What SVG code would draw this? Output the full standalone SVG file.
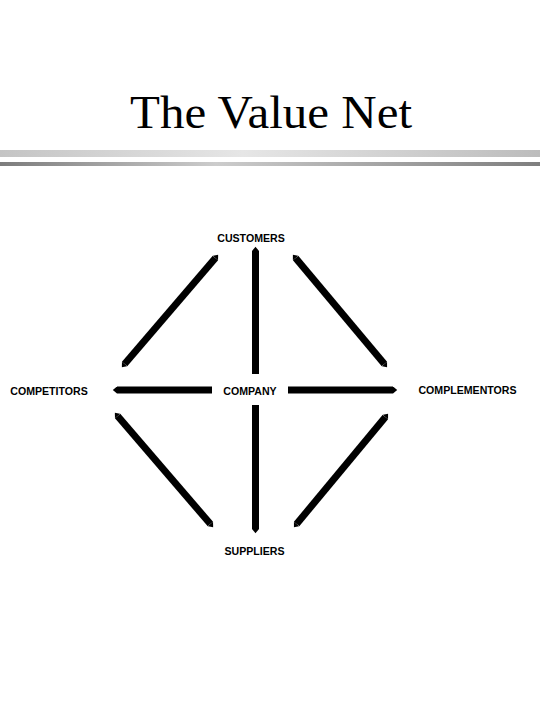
<svg xmlns="http://www.w3.org/2000/svg" width="540" height="720" viewBox="0 0 540 720">
<defs>
<style>
.lbl{font-family:"Liberation Sans",Arial,sans-serif;font-weight:bold;font-size:10.6px;fill:#000}
.title{font-family:"Liberation Serif","Times New Roman",serif;font-size:46px;fill:#000}
.conn{stroke:#000;stroke-width:7;stroke-linecap:butt;fill:none}
.tip-s{marker-start:url(#tip)}
.tip-e{marker-end:url(#tip)}
</style>
<marker id="tip" viewBox="0 0 10 10" refX="0" refY="5" markerWidth="1" markerHeight="1" orient="auto-start-reverse" markerUnits="strokeWidth">
<path d="M0,0 L6,5 L0,10 Z" fill="#000"/>
</marker>
<linearGradient id="bar1" x1="0" y1="0" x2="1" y2="0">
<stop offset="0" stop-color="#c4c4c4"/>
<stop offset="0.45" stop-color="#e6e6e6"/>
<stop offset="1" stop-color="#bcbcbc"/>
</linearGradient>
<linearGradient id="bar2" x1="0" y1="0" x2="1" y2="0">
<stop offset="0" stop-color="#7c7c7c"/>
<stop offset="0.4" stop-color="#cccccc"/>
<stop offset="1" stop-color="#7e7e7e"/>
</linearGradient>
</defs>
<rect width="540" height="720" fill="#fff"/>
<g id="title">
<text class="title" x="130" y="128" textLength="282" lengthAdjust="spacingAndGlyphs">The Value Net</text>
<rect x="0" y="150" width="540" height="7" fill="url(#bar1)"/>
<rect x="0" y="162" width="540" height="4" fill="url(#bar2)"/>
</g>
<g id="connectors">
<line class="conn tip-s tip-e" x1="215.4" y1="258" x2="124.6" y2="364"/>
<line class="conn tip-s tip-e" x1="295.6" y1="258" x2="384.4" y2="364"/>
<line class="conn tip-s tip-e" x1="117.6" y1="416" x2="210.4" y2="524"/>
<line class="conn tip-s tip-e" x1="385.4" y1="417" x2="296.6" y2="524"/>
<line class="conn tip-s" x1="255.5" y1="251" x2="255.5" y2="374"/>
<line class="conn tip-e" x1="255.5" y1="405" x2="255.5" y2="529"/>
<line class="conn tip-s" x1="117" y1="390" x2="212" y2="390"/>
<line class="conn tip-e" x1="288" y1="390" x2="393" y2="390"/>
</g>
<g id="customers"><text class="lbl" x="251" y="241.5" text-anchor="middle">CUSTOMERS</text></g>
<g id="competitors"><text class="lbl" x="49" y="394.5" text-anchor="middle">COMPETITORS</text></g>
<g id="company"><text class="lbl" x="250" y="395" text-anchor="middle">COMPANY</text></g>
<g id="complementors"><text class="lbl" x="467.5" y="393.5" text-anchor="middle">COMPLEMENTORS</text></g>
<g id="suppliers"><text class="lbl" x="254.5" y="554.5" text-anchor="middle">SUPPLIERS</text></g>
</svg>
